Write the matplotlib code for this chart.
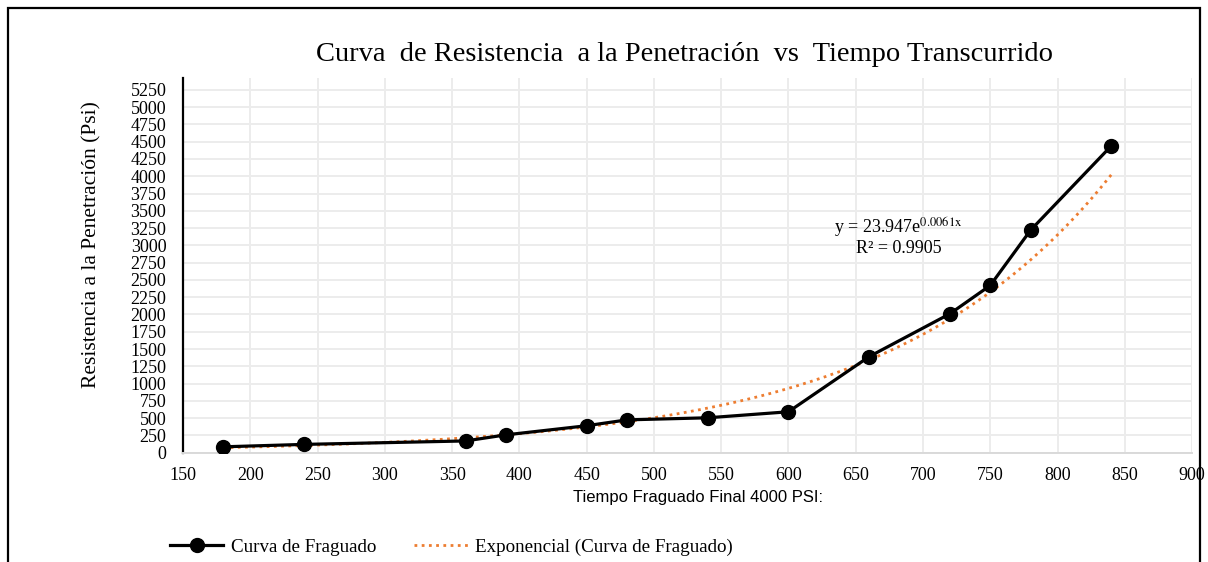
import numpy as np
import matplotlib
matplotlib.use("Agg")
import matplotlib.pyplot as plt
from matplotlib.patches import Rectangle
from matplotlib.lines import Line2D

# tiempo (min) y resistencia (psi)
tiempo = [180, 240, 360, 390, 450, 480, 540, 600, 660, 720, 750, 780, 840]
resistencia = [85, 120, 170, 258, 390, 475, 505, 592, 1390, 2010, 2420, 3220, 4440]

# ajuste exponencial y = a * e^(b x)
coef_a = 23.947
coef_b = 0.0061
r2 = 0.9905

x_ticks = list(range(150, 901, 50))
y_ticks = list(range(0, 5251, 250))

serif = "Liberation Serif"
plt.rcParams["mathtext.fontset"] = "stix"

fig = plt.figure(figsize=(12.08, 5.62), dpi=100)
ax = fig.add_axes([0.1515, 0.1945, 0.8353, 0.6665])

# marco exterior
fig.patches.append(Rectangle((8 / 1208, -0.1), 1192 / 1208, 1.1 - 8 / 562,
                             transform=fig.transFigure, fill=False,
                             edgecolor="black", linewidth=1.6, clip_on=False))

xs = np.linspace(min(tiempo), max(tiempo), 200)
ax.plot(xs, coef_a * np.exp(coef_b * xs), color="#ED7D31", linestyle=(0, (1, 1.6)),
        linewidth=2.0, zorder=2)
ax.plot(tiempo, resistencia, color="black", linewidth=2.3, marker="o",
        markersize=10, zorder=3)

ax.set_xlim(150, 900)
ax.set_ylim(0, 5420)
ax.set_xticks(x_ticks)
ax.set_yticks(y_ticks)
ax.grid(True, color="#ececec", linewidth=1.4)
ax.set_axisbelow(True)

for s in ["top", "right"]:
    ax.spines[s].set_visible(False)
ax.spines["left"].set_color("black")
ax.spines["left"].set_linewidth(1.6)
ax.spines["bottom"].set_color("#d9d9d9")
ax.spines["bottom"].set_linewidth(1.4)

ax.tick_params(axis="y", length=0, pad=12, labelsize=13)
ax.tick_params(axis="x", length=0, pad=10, labelsize=13)
for lab in ax.get_xticklabels() + ax.get_yticklabels():
    lab.set_fontfamily(serif)

ax.set_xlabel("Tiempo Fraguado Final 4000 PSI:", fontfamily="Liberation Sans",
              fontsize=12)
ax.xaxis.set_label_coords(0.51, -0.1)
ax.set_ylabel("Resistencia a la Penetración (Psi)", fontfamily=serif,
              fontsize=15.5)
ax.yaxis.set_label_coords(-0.081, 0.555)

fig.text(0.567, 0.903, "Curva  de Resistencia  a la Penetración  vs  Tiempo Transcurrido",
         ha="center", va="center", fontfamily=serif, fontsize=20.5)

ax.text(682, 3250, r"y = 23.947e$^{\mathrm{0.0061x}}$", ha="center", va="center",
        fontfamily=serif, fontsize=13)
ax.text(682, 2960, "R² = %.4f" % r2, ha="center", va="center",
        fontfamily=serif, fontsize=13)

handles = [
    Line2D([], [], color="black", linewidth=2.3, marker="o", markersize=10),
    Line2D([], [], color="#ED7D31", linewidth=2.0, linestyle=(0, (1, 1.6))),
]
fig.legend(handles, ["Curva de Fraguado", "Exponencial (Curva de Fraguado)"],
           loc="center left", bbox_to_anchor=(153 / 1208, 1 - 547 / 562),
           ncol=2, frameon=False, handlelength=2.8, handletextpad=0.4,
           columnspacing=2.0, prop={"family": serif, "size": 13.7})

fig.savefig("out.png", dpi=100)
